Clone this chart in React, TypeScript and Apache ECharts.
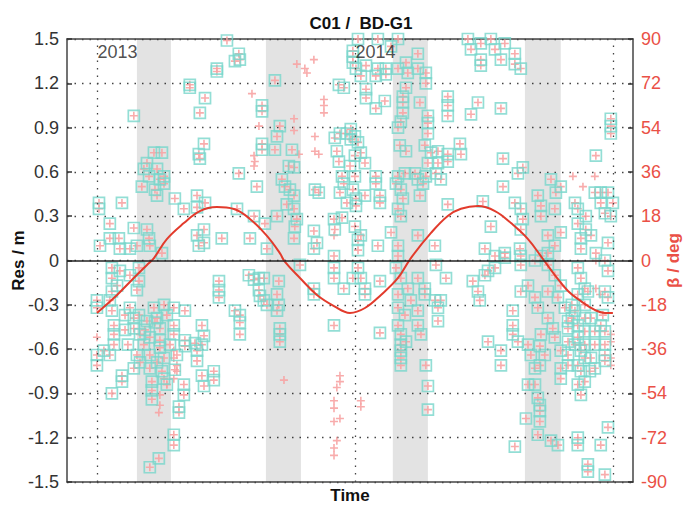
import React, { useEffect, useRef } from "react";
import * as echarts from "echarts";

// Residuals (cyan squares), [decimal year, residual in m]
const residualPoints: [number, number][] = [
  [2013.504, 1.49], [2013.55, 1.4], [2013.554, 1.36], [2013.535, 1.35], [2013.465, 1.3], [2013.465, 1.28],
  [2013.69, 1.22], [2013.36, 1.19], [2013.36, 1.17], [2013.419, 1.1], [2013.399, 1.0], [2013.143, 0.98],
  [2013.64, 1.05], [2013.64, 1.01], [2013.709, 0.91], [2013.698, 0.84], [2013.415, 0.79], [2013.395, 0.72],
  [2013.399, 0.69], [2013.64, 0.79], [2013.64, 0.75], [2013.69, 0.75], [2013.756, 0.75], [2013.744, 0.64],
  [2013.764, 0.63], [2013.938, 1.19], [2013.957, 1.17], [2013.922, 0.83], [2013.942, 0.86], [2013.969, 0.86],
  [2013.93, 0.74], [2013.938, 0.67], [2013.95, 0.57], [2013.957, 0.52], [2013.942, 0.46], [2013.969, 0.39],
  [2013.55, 0.59], [2013.62, 0.5], [2013.717, 0.55], [2013.729, 0.5], [2013.748, 0.48], [2013.764, 0.44],
  [2013.736, 0.38], [2013.845, 0.48], [2013.194, 0.66], [2013.182, 0.62], [2013.174, 0.5], [2013.202, 0.57],
  [2013.221, 0.73], [2013.252, 0.73], [2013.233, 0.62], [2013.244, 0.55], [2013.225, 0.48], [2013.233, 0.44],
  [2013.26, 0.57], [2013.26, 0.52], [2013.008, 0.39], [2013.008, 0.35], [2013.097, 0.39], [2013.302, 0.42],
  [2013.337, 0.35], [2013.388, 0.44], [2013.388, 0.36], [2013.419, 0.39], [2013.543, 0.35], [2013.609, 0.3],
  [2013.651, 0.25], [2013.698, 0.3], [2013.764, 0.35], [2013.775, 0.28], [2013.767, 0.23], [2013.05, 0.25],
  [2013.143, 0.22], [2013.194, 0.21], [2013.202, 0.15], [2013.205, 0.1], [2013.012, 0.1], [2013.05, 0.15],
  [2013.085, 0.15], [2013.089, 0.08], [2013.128, 0.08], [2013.155, 0.1], [2013.388, 0.17], [2013.395, 0.1],
  [2013.415, 0.21], [2013.415, 0.12], [2013.484, 0.15], [2013.593, 0.15], [2013.659, 0.08], [2013.764, 0.15],
  [2013.841, 0.2], [2013.853, 0.12], [2013.841, 0.08], [2013.919, 0.28], [2013.922, 0.21], [2013.95, 0.29],
  [2013.919, 0.03], [2013.252, 0.05], [2013.86, 0.46],
  [2014.012, 1.5], [2014.089, 1.5], [2014.167, 1.5], [2013.992, 1.42], [2013.992, 1.38], [2013.992, 1.34],
  [2014.004, 1.3], [2014.043, 1.32], [2014.089, 1.3], [2014.081, 1.25], [2014.12, 1.3], [2014.12, 1.26],
  [2014.14, 1.45], [2014.198, 1.34], [2014.244, 1.4], [2014.244, 1.3], [2014.275, 1.27], [2014.275, 1.2],
  [2014.167, 1.3], [2014.205, 1.27], [2014.043, 1.16], [2014.043, 1.1], [2014.081, 1.03], [2014.116, 1.08],
  [2014.198, 1.17], [2014.186, 1.11], [2014.186, 1.07], [2014.186, 1.0], [2014.178, 0.94], [2014.252, 1.07],
  [2014.283, 0.98], [2014.283, 0.93], [2014.167, 0.9], [2013.984, 0.89], [2014.0, 0.84], [2014.012, 0.8],
  [2014.023, 0.73], [2014.0, 0.71], [2014.039, 0.66], [2013.984, 0.82], [2013.981, 0.64], [2014.081, 0.57],
  [2014.081, 0.52], [2014.0, 0.57], [2013.992, 0.48], [2014.004, 0.42], [2014.004, 0.37], [2014.039, 0.44],
  [2014.097, 0.44], [2014.097, 0.39], [2014.174, 0.78], [2014.198, 0.74], [2014.194, 0.59], [2014.167, 0.57],
  [2014.159, 0.52], [2014.178, 0.48], [2014.186, 0.42], [2014.167, 0.35], [2014.178, 0.3], [2014.233, 0.59],
  [2014.244, 0.55], [2014.252, 0.44], [2014.283, 0.86], [2014.271, 0.78], [2014.295, 0.73], [2014.283, 0.66],
  [2014.322, 0.74], [2014.322, 0.66], [2014.314, 0.59], [2014.36, 0.72], [2014.36, 0.67], [2014.333, 0.55],
  [2014.275, 0.57], [2014.264, 0.52], [2014.407, 0.79], [2014.411, 0.72], [2014.36, 1.11], [2014.36, 1.05],
  [2014.36, 0.98], [2014.477, 1.07], [2014.45, 0.99], [2014.566, 1.03], [2014.36, 0.38], [2014.438, 1.5],
  [2014.45, 1.43], [2014.488, 1.47], [2014.488, 1.36], [2014.527, 1.5], [2014.543, 1.43], [2014.581, 1.47],
  [2014.566, 1.36], [2014.62, 1.4], [2014.62, 1.33], [2014.643, 1.3], [2014.488, 1.32], [2014.574, 0.69],
  [2014.574, 0.5], [2014.496, 0.4], [2014.632, 0.59], [2014.651, 0.63], [2014.62, 0.39], [2014.643, 0.35],
  [2014.651, 0.28], [2014.643, 0.21], [2014.527, 0.23], [2014.504, 0.08], [2014.543, 0.03], [2014.581, 0.05],
  [2014.64, 0.08], [2014.643, 0.03], [2014.709, 0.44], [2014.721, 0.37], [2014.721, 0.3], [2014.76, 0.55],
  [2014.779, 0.46], [2014.798, 0.5], [2014.775, 0.35], [2014.798, 0.19], [2014.775, 0.1], [2014.748, 0.17],
  [2014.748, 0.05], [2014.721, 0.03], [2014.853, 0.39], [2014.864, 0.35], [2014.864, 0.25], [2014.895, 0.3],
  [2014.895, 0.21], [2014.93, 0.46], [2014.953, 0.46], [2014.953, 0.39], [2014.969, 0.32], [2014.981, 0.46],
  [2015.0, 0.39], [2014.992, 0.3], [2014.876, 0.15], [2014.876, 0.08], [2014.915, 0.17], [2014.934, 0.05],
  [2014.981, 0.12], [2014.934, 0.71], [2014.992, 0.96], [2014.992, 0.91], [2014.992, 0.86], [2014.023, 1.25],
  [2014.0, 0.23], [2014.012, 0.14], [2014.012, 0.07], [2014.023, 0.17], [2014.089, 0.1], [2014.14, 0.19],
  [2014.167, 0.1], [2014.167, 0.03], [2014.244, 0.17], [2014.31, 0.1],
  [2013.0, -0.27], [2013.0, -0.32], [2013.058, -0.05], [2013.058, -0.12], [2013.078, -0.17], [2013.058, -0.21],
  [2013.089, -0.07], [2013.128, -0.1], [2013.163, -0.05], [2013.163, -0.14], [2013.155, -0.2], [2013.05, -0.27],
  [2013.058, -0.34], [2013.0, -0.64], [2013.0, -0.71], [2013.027, -0.61], [2013.05, -0.64], [2013.066, -0.57],
  [2013.066, -0.5], [2013.066, -0.44], [2013.128, -0.32], [2013.143, -0.39], [2013.163, -0.37], [2013.143, -0.46],
  [2013.167, -0.5], [2013.194, -0.41], [2013.221, -0.32], [2013.233, -0.39], [2013.244, -0.46], [2013.205, -0.52],
  [2013.182, -0.57], [2013.155, -0.64], [2013.205, -0.64], [2013.244, -0.59], [2013.26, -0.3], [2013.271, -0.37],
  [2013.298, -0.32], [2013.298, -0.44], [2013.298, -0.5], [2013.143, -0.73], [2013.205, -0.73], [2013.26, -0.66],
  [2013.097, -0.78], [2013.097, -0.82], [2013.058, -0.9], [2013.213, -0.82], [2013.213, -0.88], [2013.213, -0.94],
  [2013.252, -0.75], [2013.26, -0.8], [2013.271, -0.84], [2013.31, -0.64], [2013.302, -0.74], [2013.337, -0.84],
  [2013.337, -0.91], [2013.318, -0.99], [2013.318, -1.03], [2013.298, -1.18], [2013.298, -1.25], [2013.24, -1.34],
  [2013.205, -1.4], [2013.341, -0.34], [2013.341, -0.54], [2013.341, -0.58], [2013.38, -0.56], [2013.388, -0.61],
  [2013.388, -0.68], [2013.407, -0.44], [2013.415, -0.51], [2013.407, -0.57], [2013.407, -0.78], [2013.415, -0.85],
  [2013.453, -0.75], [2013.453, -0.81], [2013.473, -0.14], [2013.473, -0.2], [2013.473, -0.25], [2013.535, -0.34],
  [2013.554, -0.37], [2013.554, -0.42], [2013.554, -0.5], [2013.589, -0.1], [2013.609, -0.13], [2013.628, -0.12],
  [2013.647, -0.12], [2013.628, -0.2], [2013.632, -0.24], [2013.647, -0.27], [2013.659, -0.3], [2013.698, -0.23],
  [2013.705, -0.3], [2013.698, -0.34], [2013.709, -0.46], [2013.709, -0.5], [2013.709, -0.55], [2013.705, -0.14],
  [2013.787, -0.03], [2013.841, -0.19], [2013.841, -0.23], [2013.919, -0.05], [2013.919, -0.12], [2013.957, -0.19],
  [2013.919, -0.44], [2013.109, -0.37], [2013.109, -0.47], [2013.12, -0.57], [2013.186, -0.47], [2013.225, -0.42],
  [2013.244, -0.54], [2013.283, -0.57], [2013.167, -0.69], [2013.233, -0.69],
  [2014.012, -0.05], [2014.023, -0.12], [2014.039, -0.19], [2014.039, -0.23], [2014.097, -0.14], [2013.992, -0.12],
  [2014.097, -0.49], [2014.159, -0.05], [2014.178, -0.12], [2014.205, -0.19], [2014.167, -0.23], [2014.217, -0.27],
  [2014.167, -0.32], [2014.194, -0.37], [2014.167, -0.44], [2014.178, -0.5], [2014.178, -0.57], [2014.178, -0.61],
  [2014.178, -0.66], [2014.178, -0.71], [2014.198, -0.55], [2014.244, -0.12], [2014.271, -0.19], [2014.271, -0.23],
  [2014.244, -0.34], [2014.244, -0.44], [2014.256, -0.5], [2014.31, -0.27], [2014.333, -0.27], [2014.322, -0.32],
  [2014.322, -0.41], [2014.275, -0.71], [2014.283, -0.85], [2014.283, -1.01], [2014.314, -0.03], [2014.353, -0.12],
  [2014.516, -0.55], [2014.566, -0.61], [2014.566, -0.71], [2014.457, -0.14], [2014.477, -0.21], [2014.484, -0.27],
  [2014.504, -0.1], [2014.516, -0.07], [2014.543, -0.05], [2014.612, -0.34], [2014.612, -0.44], [2014.612, -0.5],
  [2014.632, -0.55], [2014.581, 0.02], [2014.643, -0.03], [2014.698, 0.0], [2014.643, -0.21], [2014.671, -0.17],
  [2014.698, -0.25], [2014.709, -0.32], [2014.671, -0.57], [2014.682, -0.64], [2014.698, -0.73], [2014.671, -0.84],
  [2014.698, -0.84], [2014.721, -0.5], [2014.717, -0.58], [2014.736, -0.64], [2014.717, -0.71], [2014.709, -0.93],
  [2014.717, -0.98], [2014.717, -1.02], [2014.717, -1.09], [2014.709, -1.18], [2014.663, -1.07], [2014.748, -0.03],
  [2014.775, -0.1], [2014.798, -0.17], [2014.787, -0.25], [2014.814, -0.32], [2014.826, -0.41], [2014.748, -0.21],
  [2014.748, -0.39], [2014.767, -0.46], [2014.775, -0.52], [2014.798, -0.61], [2014.798, -0.73], [2014.798, -0.8],
  [2014.76, -1.22], [2014.787, -1.25], [2014.62, -1.26], [2014.864, -0.05], [2014.876, -0.12], [2014.891, -0.19],
  [2014.864, -0.23], [2014.903, -0.21], [2014.853, -0.34], [2014.864, -0.44], [2014.864, -0.52], [2014.876, -0.61],
  [2014.864, -0.71], [2014.876, -0.75], [2014.915, -0.39], [2014.93, -0.48], [2014.93, -0.57], [2014.915, -0.66],
  [2014.93, -0.73], [2014.826, -0.46], [2014.826, -0.55], [2014.826, -0.64], [2014.826, -0.71], [2014.864, -0.84],
  [2014.876, -0.91], [2014.891, -0.82], [2014.864, -1.2], [2014.864, -1.25], [2014.903, -1.38], [2014.903, -1.43],
  [2014.969, 0.0], [2014.981, -0.07], [2014.969, -0.21], [2014.981, -0.25], [2014.953, -0.44], [2014.969, -0.48],
  [2014.969, -0.57], [2014.969, -0.64], [2014.969, -0.68], [2014.953, -1.25], [2014.981, -1.13], [2014.969, -1.45],
  [2014.961, -0.37], [2014.841, -0.3], [2014.841, -0.39], [2014.891, -0.3], [2014.891, -0.39], [2014.891, -0.48],
  [2014.891, -0.57], [2014.891, -0.66], [2014.853, -0.57], [2014.911, -0.75],
];

// Extra points that only have the pink cross marker, [decimal year, residual in m]
const crossOnlyPoints: [number, number][] = [
  [2013.775, 1.33], [2013.806, 1.3], [2013.814, 1.27], [2013.841, 1.36], [2013.601, 1.13], [2013.628, 0.91],
  [2013.764, 0.96], [2013.764, 0.88], [2013.88, 1.09], [2013.88, 1.05], [2013.88, 1.0], [2013.845, 0.84],
  [2013.845, 0.74], [2013.86, 0.72], [2013.609, 0.71], [2013.612, 0.67], [2013.609, 0.64], [2013.919, 0.17],
  [2013.783, 0.72], [2013.0, -0.52], [2013.298, -0.61], [2013.298, -0.66], [2013.31, -0.71], [2013.31, -0.75],
  [2013.298, -0.8], [2013.271, -0.84], [2013.244, -0.91], [2013.244, -0.98], [2013.24, -1.03], [2013.725, -0.81],
  [2013.942, -0.78], [2013.942, -0.82], [2013.93, -0.86], [2013.919, -0.95], [2013.919, -1.0], [2013.942, -1.07],
  [2013.919, -1.09], [2013.93, -1.22], [2013.919, -1.27], [2013.919, -1.32], [2014.023, -0.95], [2014.023, -0.99],
  [2014.934, -0.19], [2014.95, -0.23], [2014.992, -0.5], [2014.992, -0.55], [2014.992, -0.66], [2014.992, -0.71],
  [2014.845, 0.57], [2014.884, 0.5], [2014.93, 0.57], [2014.934, 0.0],
];

// Sun elevation angle beta (deg), [decimal year, beta]
const betaCurve: [number, number][] = [
  [2013.0, -21.3], [2013.078, -14.0], [2013.143, -7.1], [2013.194, -1.8], [2013.221, 1.0], [2013.271, 8.7],
  [2013.337, 15.2], [2013.399, 20.1], [2013.465, 21.7], [2013.531, 20.9], [2013.593, 16.9], [2013.659, 10.0],
  [2013.709, 3.0], [2013.729, -0.6], [2013.787, -7.1], [2013.853, -14.0], [2013.919, -18.5], [2013.981, -21.3],
  [2014.039, -19.3], [2014.101, -14.0], [2014.167, -7.1], [2014.217, 1.0], [2014.295, 11.2], [2014.36, 18.1],
  [2014.411, 21.0], [2014.477, 22.1], [2014.543, 20.1], [2014.605, 15.2], [2014.671, 8.7], [2014.729, 0.6],
  [2014.775, -5.9], [2014.826, -12.4], [2014.876, -16.5], [2014.93, -20.1], [2014.969, -21.3], [2015.0, -21.3],
];

// Eclipse seasons (grey bands), [start, end] in decimal years
const eclipseSeasons: [number, number][] = [
  [2013.155, 2013.287], [2013.655, 2013.791], [2014.147, 2014.283], [2014.659, 2014.798],
];

const yearGridLines = [2013, 2014, 2015];
const yearLabels = [2013, 2014];

const X_MIN = 2012.884;
const X_MAX = 2015.078;

const FONT = "'Liberation Sans Narrow', 'Liberation Sans', Arial, sans-serif";
const CYAN = "#78d6cb";
const PINK = "#f7a3a3";
const RED = "#e23b2c";
const RED_LABEL = "#ea5046";

export default function App() {
  const ref = useRef<HTMLDivElement>(null);

  useEffect(() => {
    document.body.style.margin = "0";
    if (!ref.current) return;
    const chart = echarts.init(ref.current, undefined, { renderer: "svg" });

    const allCross = [...residualPoints, ...crossOnlyPoints];

    chart.setOption({
      animation: false,
      backgroundColor: "#ffffff",
      title: {
        text: "C01 /  BD-G1",
        left: 356,
        top: 10,
        textAlign: "center",
        textStyle: { fontFamily: FONT, fontSize: 17, fontWeight: "bold", color: "#111" },
      },
      grid: { left: 67, right: 51, top: 39, bottom: 26, containLabel: false, outerBoundsMode: "none" },
      xAxis: [
        {
          type: "value",
          min: X_MIN,
          max: X_MAX,
          position: "bottom",
          axisLine: { show: true, onZero: false, lineStyle: { color: "#444", width: 1.5 } },
          axisTick: { show: false },
          axisLabel: { show: false },
          splitLine: { show: false },
          name: "Time",
          nameLocation: "middle",
          nameGap: 5,
          nameMoveOverlap: false,
          nameTextStyle: { fontFamily: FONT, fontSize: 17, fontWeight: "bold", color: "#111", verticalAlign: "top" },
        },
        {
          type: "value",
          min: X_MIN,
          max: X_MAX,
          position: "top",
          axisLine: { show: true, onZero: false, lineStyle: { color: "#444", width: 1.5 } },
          axisTick: { show: false },
          axisLabel: { show: false },
          splitLine: { show: false },
        },
      ],
      yAxis: [
        {
          type: "value",
          min: -1.5,
          max: 1.5,
          interval: 0.3,
          position: "left",
          axisLine: { show: true, onZero: false, lineStyle: { color: "#444", width: 1.5 } },
          axisTick: { show: true, inside: true, length: 5, lineStyle: { color: "#333", width: 1.5 } },
          axisLabel: {
            fontFamily: FONT,
            fontSize: 18,
            color: "#333",
            margin: 8,
            formatter: (v: number) => (Math.abs(v) < 1e-9 ? "0" : v.toFixed(1)),
          },
          splitLine: { show: true, lineStyle: { color: "#444", width: 1.3, type: [1.5, 6] } },
          name: "Res / m",
          nameLocation: "middle",
          nameRotate: 90,
          nameGap: 40,
          nameMoveOverlap: false,
          nameTextStyle: { fontFamily: FONT, fontSize: 17, fontWeight: "bold", color: "#111" },
        },
        {
          type: "value",
          min: -90,
          max: 90,
          interval: 18,
          position: "right",
          axisLine: { show: true, onZero: false, lineStyle: { color: "#444", width: 1.5 } },
          axisTick: { show: true, inside: true, length: 5, lineStyle: { color: "#333", width: 1.5 } },
          axisLabel: { fontFamily: FONT, fontSize: 18, color: RED_LABEL, margin: 8 },
          splitLine: { show: false },
          name: "β / deg",
          nameLocation: "middle",
          nameRotate: 90,
          nameGap: 32,
          nameMoveOverlap: false,
          nameTextStyle: { fontFamily: FONT, fontSize: 17, fontWeight: "bold", color: RED_LABEL },
        },
      ],
      series: [
        {
          type: "line",
          data: [],
          z: 1,
          silent: true,
          markArea: {
            silent: true,
            itemStyle: { color: "rgba(0,0,0,0.11)" },
            data: eclipseSeasons.map(([a, b]) => [{ xAxis: a }, { xAxis: b }]),
          },
          markLine: {
            silent: true,
            symbol: "none",
            label: { show: false },
            data: [
              ...yearGridLines.map((y) => ({
                xAxis: y,
                lineStyle: { color: "#444", width: 1.3, type: [1.5, 6] },
              })),
              { yAxis: 0, lineStyle: { color: "#222", width: 1.5, type: "solid" } },
            ],
          },
        },
        {
          type: "scatter",
          data: allCross,
          z: 2,
          clip: false,
          symbol: "path://M4,0H6V10H4ZM0,4H10V6H0Z",
          symbolSize: 8,
          itemStyle: { color: PINK, opacity: 0.9 },
          silent: true,
        },
        {
          type: "scatter",
          data: residualPoints,
          z: 3,
          clip: false,
          symbol: "rect",
          symbolSize: 11,
          itemStyle: { color: "rgba(0,0,0,0)", borderColor: CYAN, borderWidth: 1.7 },
          silent: true,
        },
        {
          type: "line",
          yAxisIndex: 1,
          data: betaCurve,
          z: 4,
          smooth: 0.4,
          symbol: "none",
          lineStyle: { color: RED, width: 2 },
          silent: true,
        },
        {
          type: "scatter",
          z: 5,
          data: yearLabels.map((y) => [y, 1.5]),
          symbolSize: 1,
          itemStyle: { color: "rgba(0,0,0,0)" },
          clip: false,
          silent: true,
          label: {
            show: true,
            position: [1, 4],
            align: "left",
            verticalAlign: "top",
            fontFamily: FONT,
            fontSize: 18,
            color: "#222",
            formatter: (p: any) => String(p.value[0]),
          },
        },
      ],
    });

    return () => chart.dispose();
  }, []);

  return <div ref={ref} style={{ width: 684, height: 508 }} />;
}
